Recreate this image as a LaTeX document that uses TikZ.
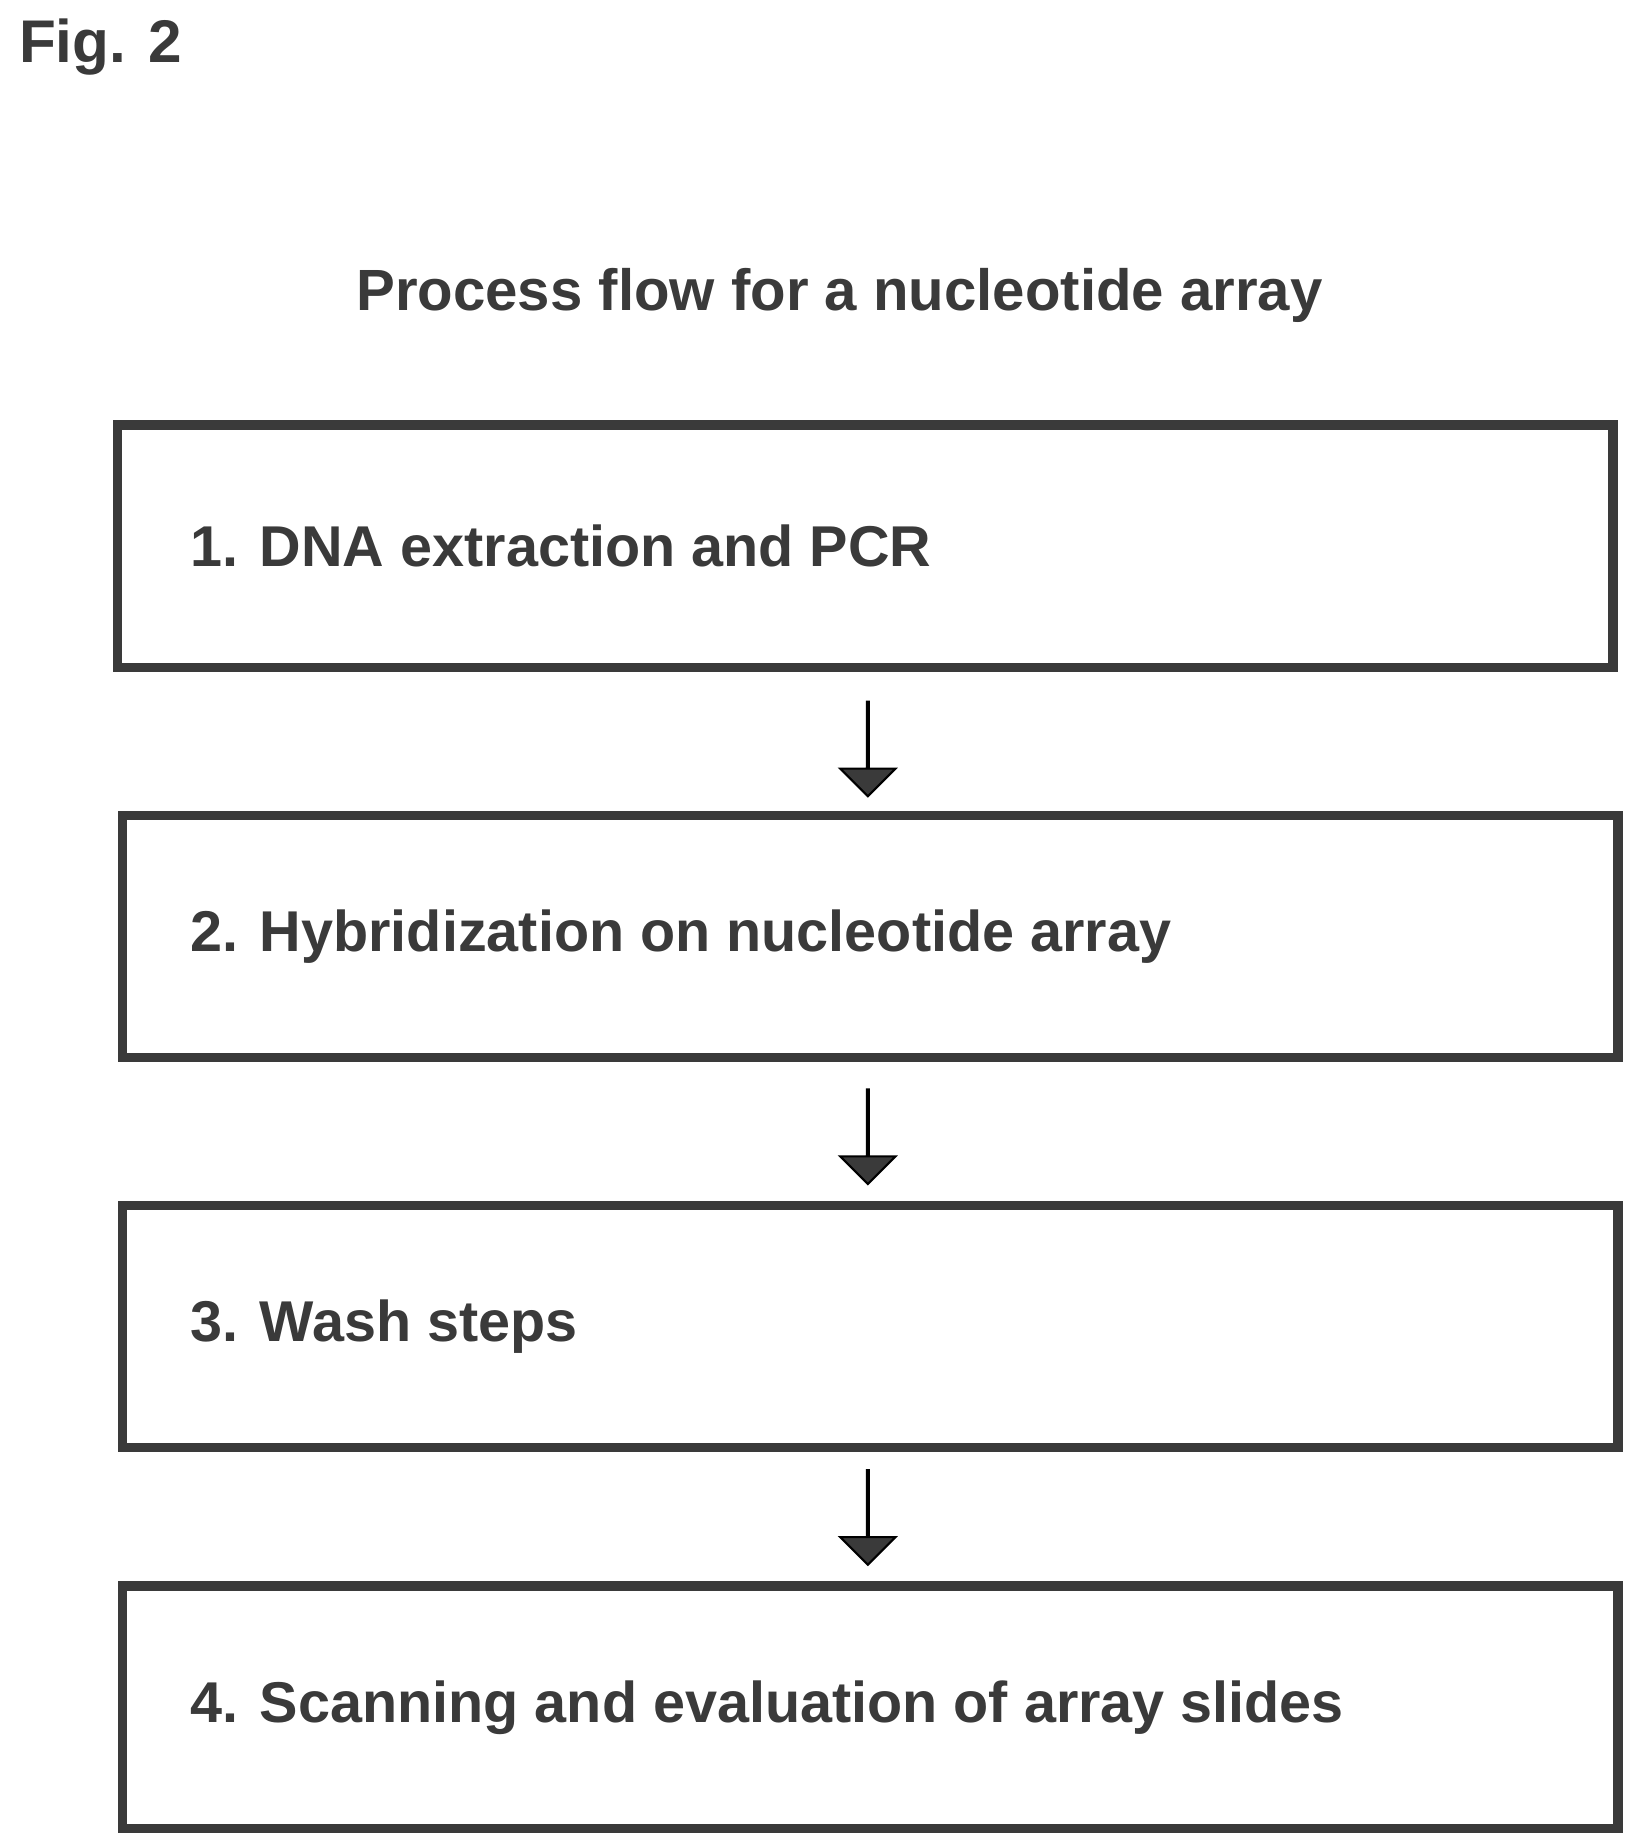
\documentclass[tikz,border=0pt]{standalone}
\usepackage{fontspec}
\setmainfont{Liberation Sans}
\usetikzlibrary{shapes.arrows}
\definecolor{boxline}{HTML}{3A3A3A}
\tikzset{
  stepbox/.style={draw=boxline, line width=4.5pt, minimum width=25.3cm, minimum height=4.1cm, inner sep=0pt},
  steptext/.style={anchor=west, font=\fontsize{27.7}{32}\selectfont\bfseries, text=boxline},
  down/.style={single arrow, draw=black, fill=boxline, shape border rotate=270, minimum height=1.6cm,
    minimum width=0.6cm, single arrow head extend=0.45cm, inner sep=0pt, line width=1pt}
}
\begin{document}
\begin{tikzpicture}[x=0.02cm, y=-0.02cm]
  \useasboundingbox (0,0) rectangle (1385,1563);
  \node[anchor=west, font=\fontsize{29}{34}\selectfont\bfseries, text=boxline] (fig) at (10,40) {Fig. 2};
  \node[font=\fontsize{28}{33}\selectfont\bfseries, text=boxline] (title) at (710,250) {Process flow for a nucleotide array};
  % steps
  \node[stepbox] (s1) at (732,462) {};
  \node[steptext] (t1) at (155,462) {1. DNA extraction and PCR};
  \node[stepbox] (s2) at (736,792) {};
  \node[steptext] (t2) at (155,792) {2. Hybridization on nucleotide array};
  \node[stepbox] (s3) at (736,1122) {};
  \node[steptext] (t3) at (155,1122) {3. Wash steps};
  \node[stepbox] (s4) at (736,1444) {};
  \node[steptext] (t4) at (155,1444) {4. Scanning and evaluation of array slides};
  % arrows
  \node[down] (a1) at (734,633) {};
  \node[down] (a2) at (734,961) {};
  \node[down] (a3) at (734,1283) {};
\end{tikzpicture}
\end{document}
